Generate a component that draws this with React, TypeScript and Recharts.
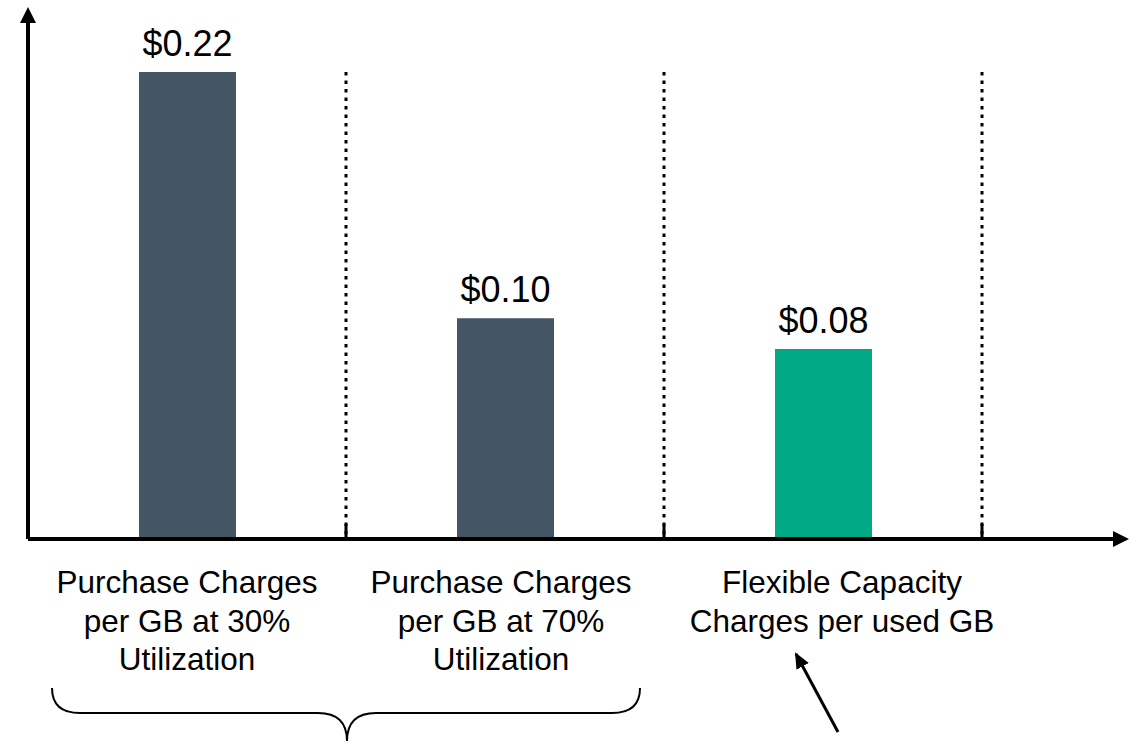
import React from "react";
import { BarChart, Bar, XAxis, YAxis, Cell, LabelList, ReferenceLine } from "recharts";

// categories (line breaks as in the slide)
const categories = [
  "Purchase Charges\nper GB at 30%\nUtilization",
  "Purchase Charges\nper GB at 70%\nUtilization",
  "Flexible Capacity\nCharges per used GB",
];
// bar heights as drawn (the slide's bars are not exactly to scale with the printed prices)
const costPerGB = [0.22, 0.104, 0.0895];
const priceLabels = ["$0.22", "$0.10", "$0.08"];
const barColors = ["#445664", "#445664", "#00a884"];

const data = categories.map((name, i) => ({ name, cost: costPerGB[i], price: priceLabels[i] }));
const peak = Math.max(...costPerGB);

const W = 1132;
const H = 741;
const FONT = "'Liberation Sans', Arial, Helvetica, sans-serif";
// the slide's text boxes sit a little off the band centres
const LABEL_NUDGE = [0, -4, 19];

function CategoryTick({ x, y, payload, index }: any) {
  const lines = String(payload.value).split("\n");
  const cx = x + (LABEL_NUDGE[index] || 0);
  return (
    <text x={cx} y={y} textAnchor="middle" fontSize={31.5} fill="#000" fontFamily={FONT}>
      {lines.map((l, i) => (
        <tspan key={i} x={cx} dy={i === 0 ? 54 : 38.5}>
          {l}
        </tspan>
      ))}
    </text>
  );
}

// dotted separator with a short solid tick where it meets the axis
function Separator(props: any) {
  const { x1, y1, x2, y2 } = props;
  const bottom = Math.max(y1, y2);
  const top = Math.min(y1, y2);
  return (
    <g>
      <line x1={x1} x2={x2} y1={top} y2={bottom} stroke="#000" strokeWidth={3} strokeDasharray="3.5 5" />
      <line x1={x1} x2={x2} y1={bottom - 15} y2={bottom} stroke="#000" strokeWidth={3} />
    </g>
  );
}

export default function App() {
  return (
    <div style={{ position: "absolute", left: 0, top: 0, width: W, height: H, background: "#fff", fontFamily: FONT }}>
      <BarChart width={W} height={H} data={data} margin={{ top: 23, right: 19, bottom: 172, left: 18 }}>
        <XAxis
          dataKey="name"
          height={30}
          padding={{ left: 0, right: 131 }}
          tickLine={false}
          tickSize={0}
          tickMargin={0}
          interval={0}
          tick={<CategoryTick />}
          axisLine={{ stroke: "#000", strokeWidth: 4, markerEnd: "url(#axisArrow)" }}
        />
        <YAxis
          width={10}
          domain={[0, 0.2431]}
          tick={false}
          tickLine={false}
          axisLine={{ stroke: "#000", strokeWidth: 4, markerStart: "url(#axisArrow)" }}
        />
        {categories.map((c) => (
          <ReferenceLine
            key={c}
            ifOverflow="visible"
            position="end"
            segment={[
              { x: c, y: 0 },
              { x: c, y: peak },
            ]}
            shape={<Separator />}
          />
        ))}
        <Bar dataKey="cost" barSize={97} isAnimationActive={false}>
          {data.map((d, i) => (
            <Cell key={d.name} fill={barColors[i]} />
          ))}
          <LabelList dataKey="price" position="top" offset={16} fill="#000" fontSize={36} fontFamily={FONT} />
        </Bar>
      </BarChart>
      <svg width={W} height={H} style={{ position: "absolute", left: 0, top: 0, pointerEvents: "none" }}>
        <defs>
          <marker
            id="axisArrow"
            viewBox="0 0 16 16"
            refX={0}
            refY={8}
            markerWidth={16}
            markerHeight={16}
            markerUnits="userSpaceOnUse"
            orient="auto-start-reverse"
          >
            <path d="M0,0 L16,8 L0,16 z" fill="#000" />
          </marker>
          <marker
            id="pointerArrow"
            viewBox="0 0 16 14"
            refX={14}
            refY={7}
            markerWidth={16}
            markerHeight={14}
            markerUnits="userSpaceOnUse"
            orient="auto"
          >
            <path d="M0,0 L16,7 L0,14 z" fill="#000" />
          </marker>
        </defs>
        {/* brace under the two purchase options */}
        <path
          d="M52,688 Q52,713 80,713 L318,713 Q347,713 347,741 M347,741 Q347,713 376,713 L612,713 Q640,713 640,688"
          fill="none"
          stroke="#000"
          strokeWidth={2}
        />
        {/* arrow pointing at the flexible capacity label */}
        <line x1={838} y1={732} x2={796} y2={654} stroke="#000" strokeWidth={3} markerEnd="url(#pointerArrow)" />
      </svg>
    </div>
  );
}
